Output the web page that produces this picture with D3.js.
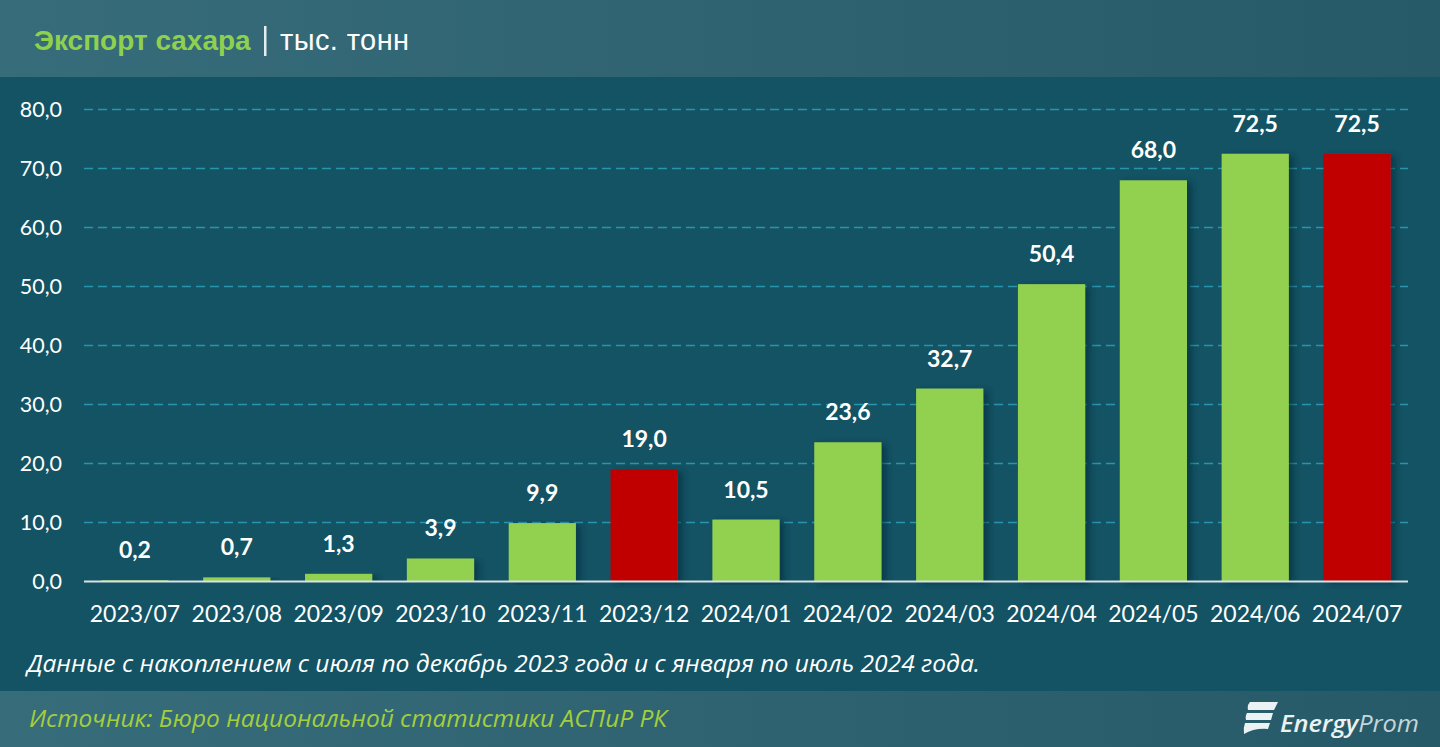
<!DOCTYPE html>
<html>
<head>
<meta charset="utf-8">
<script src="https://cdn.jsdelivr.net/npm/d3@7"></script>
<style>
  html, body { margin: 0; padding: 0; background: #135364; overflow: hidden; }
  svg { display: block; }
</style>
</head>
<body>
<script>
const months = ['2023/07','2023/08','2023/09','2023/10','2023/11','2023/12','2024/01','2024/02','2024/03','2024/04','2024/05','2024/06','2024/07']
const exportValues = [0.2,0.7,1.3,3.9,9.9,19.0,10.5,23.6,32.7,50.4,68.0,72.5,72.5]
const redMonths = ['2023/12','2024/07']
const yTicks = [0,10,20,30,40,50,60,70,80]

const width = 1440
const height = 747
const labelFont = 'Lato, "Open Sans", sans-serif'
const noteFont = '"Open Sans", "Noto Sans", sans-serif'
const fmt = v => v.toFixed(1).replace('.', ',')

const svg = d3.select('body').append('svg').attr('width', width).attr('height', height)
const defs = svg.append('defs')

const bandGrad = defs.append('linearGradient').attr('id', 'band')
bandGrad.append('stop').attr('offset', '0%').attr('stop-color', '#376c7b')
bandGrad.append('stop').attr('offset', '100%').attr('stop-color', '#275a68')

const blur = defs.append('filter').attr('id', 'barShadow')
  .attr('x', '-20%').attr('y', '-5%').attr('width', '150%').attr('height', '110%')
blur.append('feDropShadow').attr('dx', 5).attr('dy', 2).attr('stdDeviation', 3)
  .attr('flood-color', '#062a35').attr('flood-opacity', 0.55)

svg.append('rect').attr('width', width).attr('height', height).attr('fill', '#135364')
svg.append('rect').attr('width', width).attr('height', 77).attr('fill', 'url(#band)')
svg.append('rect').attr('y', 691).attr('width', width).attr('height', 56).attr('fill', 'url(#band)')

// title
svg.append('text').attr('x', 34).attr('y', 50)
  .attr('font-family', '"Liberation Sans", Arial, sans-serif').attr('font-size', 28)
  .attr('font-weight', 'bold').attr('fill', '#8fd14f').text('Экспорт сахара')
svg.append('rect').attr('x', 264).attr('y', 26).attr('width', 2.5).attr('height', 30).attr('fill', '#e4eef0')
svg.append('text').attr('x', 280).attr('y', 50).attr('fill', '#fff')
  .attr('font-family', '"Liberation Sans", Arial, sans-serif').attr('font-size', 29)
  .attr('letter-spacing', 0.4).text('тыс. тонн')

const x = d3.scaleBand().domain(months).range([84, 1408]).paddingInner(0.34).paddingOuter(0.17)
const y = d3.scaleLinear().domain([0, 80]).range([581.5, 109.5])

// grid
svg.append('g').selectAll('line').data(yTicks.filter(d => d > 0)).enter().append('line')
  .attr('x1', 84).attr('x2', 1408)
  .attr('y1', d => y(d)).attr('y2', d => y(d))
  .attr('stroke', '#2b94ad').attr('stroke-width', 1.5).attr('stroke-dasharray', '9 5')

// y axis
const yAxis = svg.append('g').attr('transform', 'translate(62,0)')
  .call(d3.axisLeft(y).tickValues(yTicks).tickFormat(fmt).tickSize(0).tickPadding(0))
yAxis.select('.domain').remove()
yAxis.selectAll('text').attr('fill', '#fff').attr('font-family', labelFont).attr('font-size', 21.5)

// bars
svg.append('g').selectAll('rect').data(months).enter().append('rect')
  .attr('x', d => x(d))
  .attr('width', x.bandwidth())
  .attr('y', (d, i) => y(exportValues[i]))
  .attr('height', (d, i) => y(0) - y(exportValues[i]))
  .attr('fill', d => redMonths.includes(d) ? '#c00000' : '#92d050')
  .attr('filter', 'url(#barShadow)')

// x axis
const xAxis = svg.append('g').attr('transform', `translate(0,${y(0)})`)
  .call(d3.axisBottom(x).tickSize(0).tickPadding(24))
xAxis.select('.domain').attr('stroke', '#d9e2e4').attr('stroke-width', 2)
  .attr('d', 'M84,0H1408')
xAxis.selectAll('text').attr('fill', '#fff').attr('font-family', labelFont).attr('font-size', 23)

// value labels
svg.append('g').selectAll('text').data(months).enter().append('text')
  .attr('x', d => x(d) + x.bandwidth() / 2)
  .attr('y', (d, i) => y(exportValues[i]) - 22)
  .attr('text-anchor', 'middle')
  .attr('fill', '#fff').attr('font-family', labelFont).attr('font-weight', 'bold').attr('font-size', 23)
  .text((d, i) => fmt(exportValues[i]))

// notes
svg.append('text').attr('x', 27).attr('y', 672).attr('fill', '#fff')
  .attr('font-family', noteFont).attr('font-style', 'italic').attr('font-size', 24)
  .attr('textLength', 953).attr('lengthAdjust', 'spacingAndGlyphs')
  .text('Данные с накоплением с июля по декабрь 2023 года и с января по июль 2024 года.')
svg.append('text').attr('x', 29).attr('y', 727).attr('fill', '#a4cf3c')
  .attr('font-family', noteFont).attr('font-style', 'italic').attr('font-size', 24)
  .attr('textLength', 638).attr('lengthAdjust', 'spacingAndGlyphs')
  .text('Источник: Бюро национальной статистики АСПиР РК')

// logo
const logo = svg.append('g').attr('fill', '#eaf2f3')
logo.append('path').attr('d', 'M1250,702 H1278 L1274,710 H1248 Q1247,705 1250,702 Z')
logo.append('path').attr('d', 'M1247,713 H1273 L1271,720 H1246 Q1245,716 1247,713 Z')
logo.append('path').attr('d', 'M1245,723 H1270 L1268,729 Q1254,728 1244,734 Q1243,728 1245,723 Z')
svg.append('text').attr('x', 1280).attr('y', 732).attr('fill', '#eaf2f3')
  .attr('font-family', '"Open Sans", sans-serif').attr('font-style', 'italic').attr('font-size', 24)
  .attr('textLength', 139).attr('lengthAdjust', 'spacingAndGlyphs')
  .call(t => {
    t.append('tspan').attr('font-weight', 600).text('Energy')
    t.append('tspan').attr('fill', '#c4d6da').text('Prom')
  })
</script>
</body>
</html>
